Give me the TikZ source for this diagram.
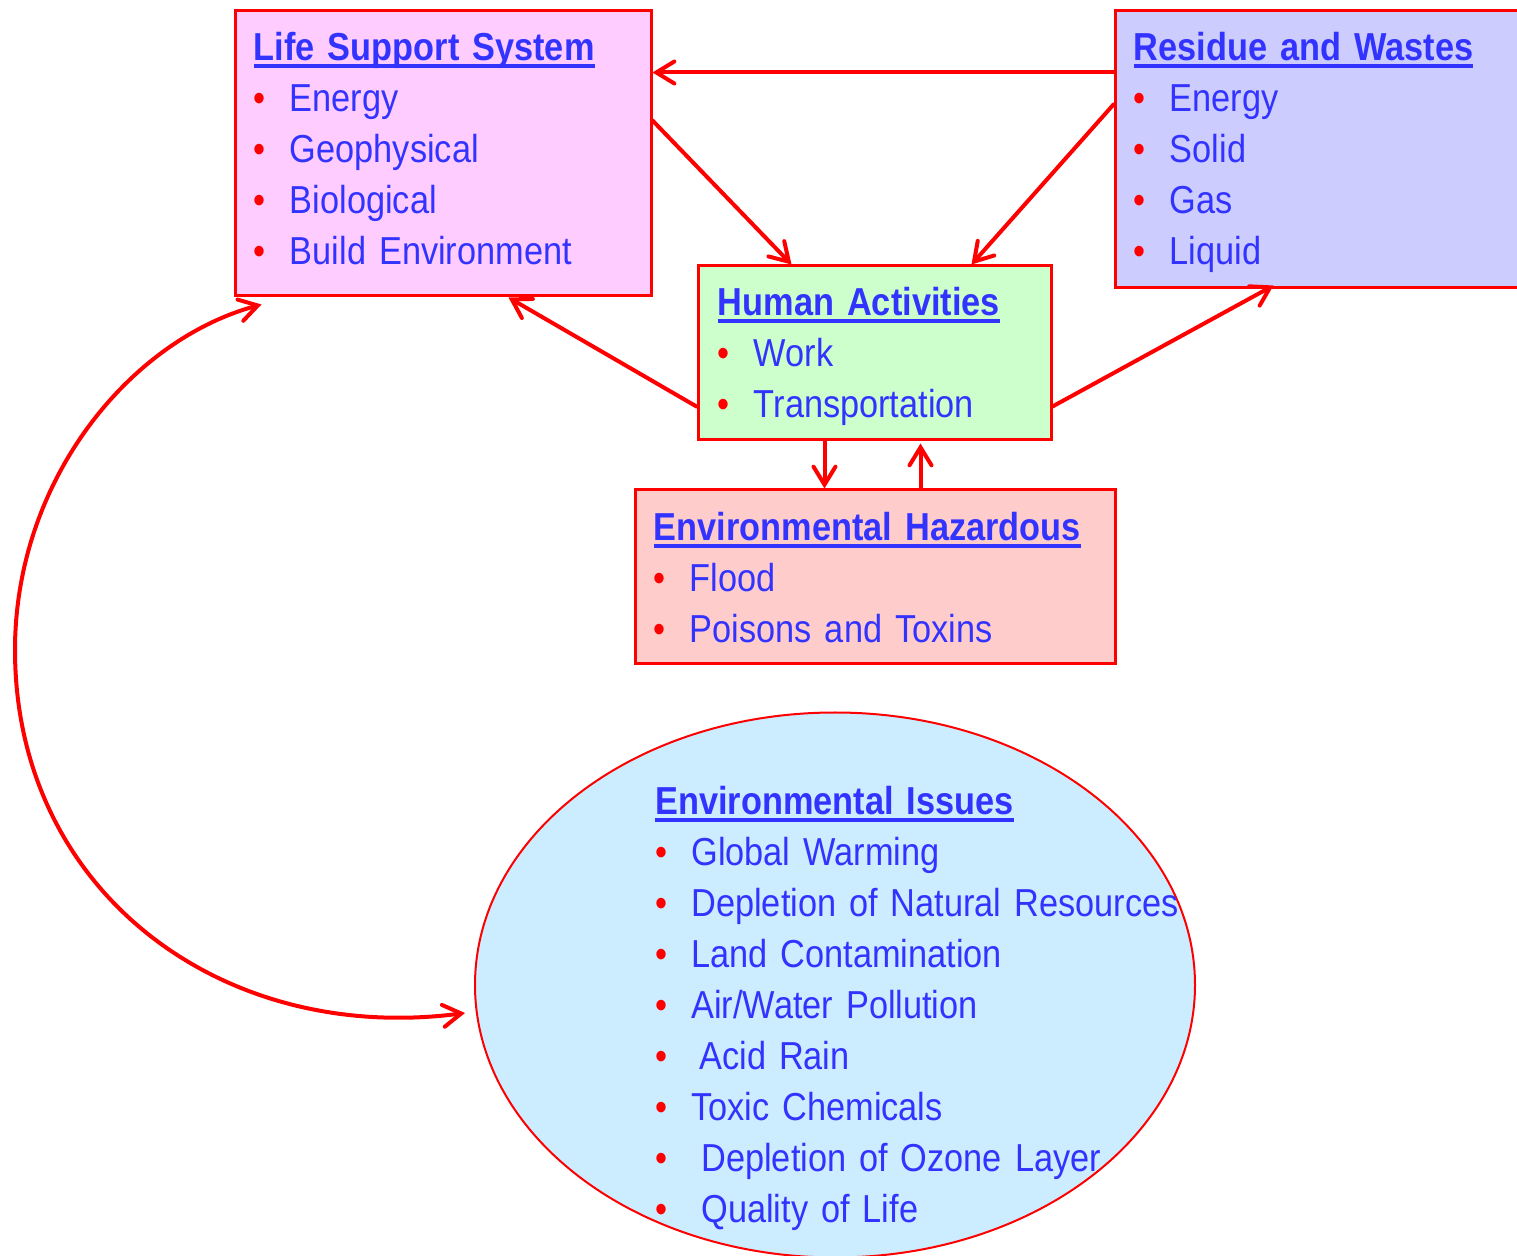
\documentclass[tikz,border=0pt]{standalone}
\usepackage{fontspec}
\setmainfont{Liberation Sans}[FakeStretch=0.88]
\usetikzlibrary{arrows.meta,shapes.geometric}
\definecolor{tblue}{HTML}{3333FF}
\definecolor{bred}{HTML}{FF0000}
\definecolor{fpink}{HTML}{FFCCFF}
\definecolor{flav}{HTML}{CCCCFF}
\definecolor{fgreen}{HTML}{CCFFCC}
\definecolor{fsalmon}{HTML}{FFCCCC}
\definecolor{fsky}{HTML}{CCECFF}
\newcommand\ttlline[1]{\setbox0=\hbox{\bfseries #1}\rlap{\rule[-3.5pt]{\wd0}{1.75pt}}\box0}
\newcommand\itm[1]{\makebox[18pt][l]{\textcolor{bred}{•}}#1}
\DeclareRobustCommand\txtfont{\fontsize{19.5}{25.5}\selectfont\spaceskip=4.6pt plus 2pt minus 1pt\relax}
\begin{document}
\begin{tikzpicture}[x=0.5pt,y=-0.5pt,
  boxst/.style={draw=bred, line width=1.5pt, inner sep=0pt, rectangle},
  txt/.style={anchor=north west, inner sep=0pt, text=tblue, align=left, text width=300pt,
    font=\txtfont},
  arr/.style={draw=bred, line width=2pt, line cap=round,
    -{Straight Barb[length=9pt,width=11pt,line cap=round]}},
  darr/.style={draw=bred, line width=2pt, line cap=round,
    {Straight Barb[length=9pt,width=11pt,line cap=round]}-{Straight Barb[length=9pt,width=11pt,line cap=round]}}]
\clip (0,0) rectangle (1517,1256);
\fill[white] (0,0) rectangle (1517,1256);

% boxes
\node[boxst, fill=fpink, minimum width=208pt, minimum height=142.5pt] (lss) at (443,153.5) {};
\node[boxst, fill=flav, minimum width=205pt, minimum height=138.5pt] (res) at (1320,149.5) {};
\node[boxst, fill=fgreen, minimum width=176.5pt, minimum height=87pt] (hum) at (874.5,353) {};
\node[boxst, fill=fsalmon, minimum width=240pt, minimum height=87pt] (haz) at (875,577) {};
\node[draw=bred, line width=1pt, fill=fsky, ellipse, inner sep=0pt,
      minimum width=360pt, minimum height=272.5pt] (ei) at (835,985) {};

% texts
\node[txt] (lsst) at ([shift={(20,15.3)}]lss.north west) {\strut\ttlline{Life Support System}\\
  \itm{Energy}\\ \itm{Geophysical}\\ \itm{Biological}\\ \itm{Build Environment}};
\node[txt] (rest) at ([shift={(20,15.3)}]res.north west) {\strut\ttlline{Residue and Wastes}\\
  \itm{Energy}\\ \itm{Solid}\\ \itm{Gas}\\ \itm{Liquid}};
\node[txt] (humt) at ([shift={(21,15.3)}]hum.north west) {\strut\ttlline{Human Activities}\\
  \itm{Work}\\ \itm{Transportation}};
\node[txt] (hazt) at ([shift={(20,16)}]haz.north west) {\strut\ttlline{Environmental Hazardous}\\
  \itm{Flood}\\ \itm{Poisons and Toxins}};
\node[txt] (eit) at ([shift={(-180,-206.5)}]ei.center) {\strut\ttlline{Environmental Issues}\\
  \itm{Global Warming}\\ \itm{Depletion of Natural Resources}\\ \itm{Land Contamination}\\
  \itm{Air/Water Pollution}\\ \itm{\hspace{4pt}Acid Rain}\\ \itm{Toxic Chemicals}\\
  \itm{\hspace{5pt}Depletion of Ozone Layer}\\ \itm{\hspace{5pt}Quality of Life}};

% connectors
\draw[arr] ([shift={(0,63)}]res.north west) -- ([shift={(0,63)}]lss.north east);
\draw[arr] ([shift={(0,111)}]lss.north east) -- ([shift={(95,0)}]hum.north west);
\draw[arr] ([shift={(0,95)}]res.north west) -- ([shift={(275,0)}]hum.north west);
\draw[arr] ([shift={(0,142)}]hum.north west) -- ([shift={(275,0)}]lss.south west);
\draw[arr] ([shift={(0,142)}]hum.north east) -- ([shift={(160,-4)}]res.south west);
\draw[arr] ([shift={(128,0)}]hum.south west) -- ([shift={(191,0)}]haz.north west);
\draw[arr] ([shift={(287,0)}]haz.north west) -- ([shift={(224,2)}]hum.south west);
\coordinate (cl) at (15,650);
\draw[darr] ([shift={(28,7)}]lss.south west) .. controls (130,340) and (15,480) .. (cl)
  .. controls (15,890) and (220,1045) .. ([shift={(-370,28)}]ei.center);
\end{tikzpicture}
\end{document}
